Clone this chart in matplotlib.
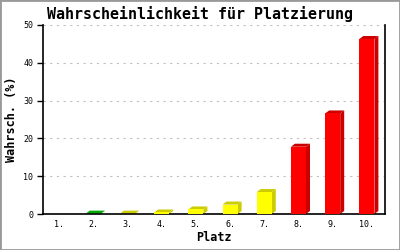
import matplotlib
matplotlib.use("Agg")
import matplotlib.pyplot as plt
from matplotlib.patches import Polygon, Rectangle

# data
places = ["1.", "2.", "3.", "4.", "5.", "6.", "7.", "8.", "9.", "10."]
probs = [0.0, 0.1, 0.1, 0.4, 1.2, 2.5, 5.8, 17.8, 26.6, 46.3]
front_colors = ["#ffffff", "#00cc00", "#ffff00", "#ffff00", "#ffff00",
                "#ffff00", "#ffff00", "#ff0000", "#ff0000", "#ff0000"]
side_colors = ["#ffffff", "#00aa00", "#cccc00", "#cccc00", "#cccc00",
               "#cccc00", "#cccc00", "#cc0000", "#cc0000", "#cc0000"]

mono = "DejaVu Sans Mono"

fig = plt.figure(figsize=(4, 2.5), dpi=100)
ax = fig.add_axes([0.1075, 0.144, 0.855, 0.756])

x = list(range(1, len(places) + 1))
width = 0.44
ax.set_xlim(0.53, 10.53)
ax.set_ylim(0, 50)

# 3d depth: about 4 px right and 3 px up
dx = 4 / 34.25
dy = 3 / 3.78

for xi, v, fc, sc in zip(x, probs, front_colors, side_colors):
    if v <= 0:
        continue
    l, r = xi - width / 2, xi + width / 2
    side = Polygon([(r, 0), (r + dx, dy), (r + dx, v + dy), (r, v)],
                   closed=True, facecolor=sc, edgecolor="none", zorder=2)
    top = Polygon([(l, v), (l + dx, v + dy), (r + dx, v + dy), (r, v)],
                  closed=True, facecolor=sc, edgecolor="none", zorder=2)
    ax.add_patch(side)
    ax.add_patch(top)
    ax.add_patch(Rectangle((l, 0), width, v, facecolor=fc, edgecolor="none", zorder=3))

ax.set_yticks([0, 10, 20, 30, 40, 50])
ax.set_xticks(x)
ax.set_xticklabels(places, fontfamily=mono, fontsize=6)
for lab in ax.get_yticklabels():
    lab.set_fontfamily(mono)
    lab.set_fontsize(6)
ax.tick_params(axis="x", length=0, pad=4)
ax.tick_params(axis="y", length=4, width=1, pad=3, direction="out")

ax.yaxis.grid(True, color="#c0c0c0", linestyle=(0, (2, 4)), linewidth=0.8)
ax.set_axisbelow(True)

ax.spines["top"].set_visible(False)
for s in ["left", "bottom", "right"]:
    ax.spines[s].set_linewidth(1.2)
    ax.spines[s].set_color("black")

ax.set_xlabel("Platz", fontfamily=mono, fontsize=8.5, fontweight="bold")
ax.set_ylabel("Wahrsch. (%)", fontfamily=mono, fontsize=8.5, fontweight="bold", labelpad=4)
ax.xaxis.set_label_coords(0.5, -0.09)
fig.text(0.5, 0.945, "Wahrscheinlichkeit für Platzierung", ha="center", va="center",
         fontfamily=mono, fontsize=10.8, fontweight="bold")

fig.patches.append(Rectangle((0, 0), 1, 1, transform=fig.transFigure, fill=False,
                             edgecolor="#999999", linewidth=2))

fig.savefig("out.png", dpi=100)
